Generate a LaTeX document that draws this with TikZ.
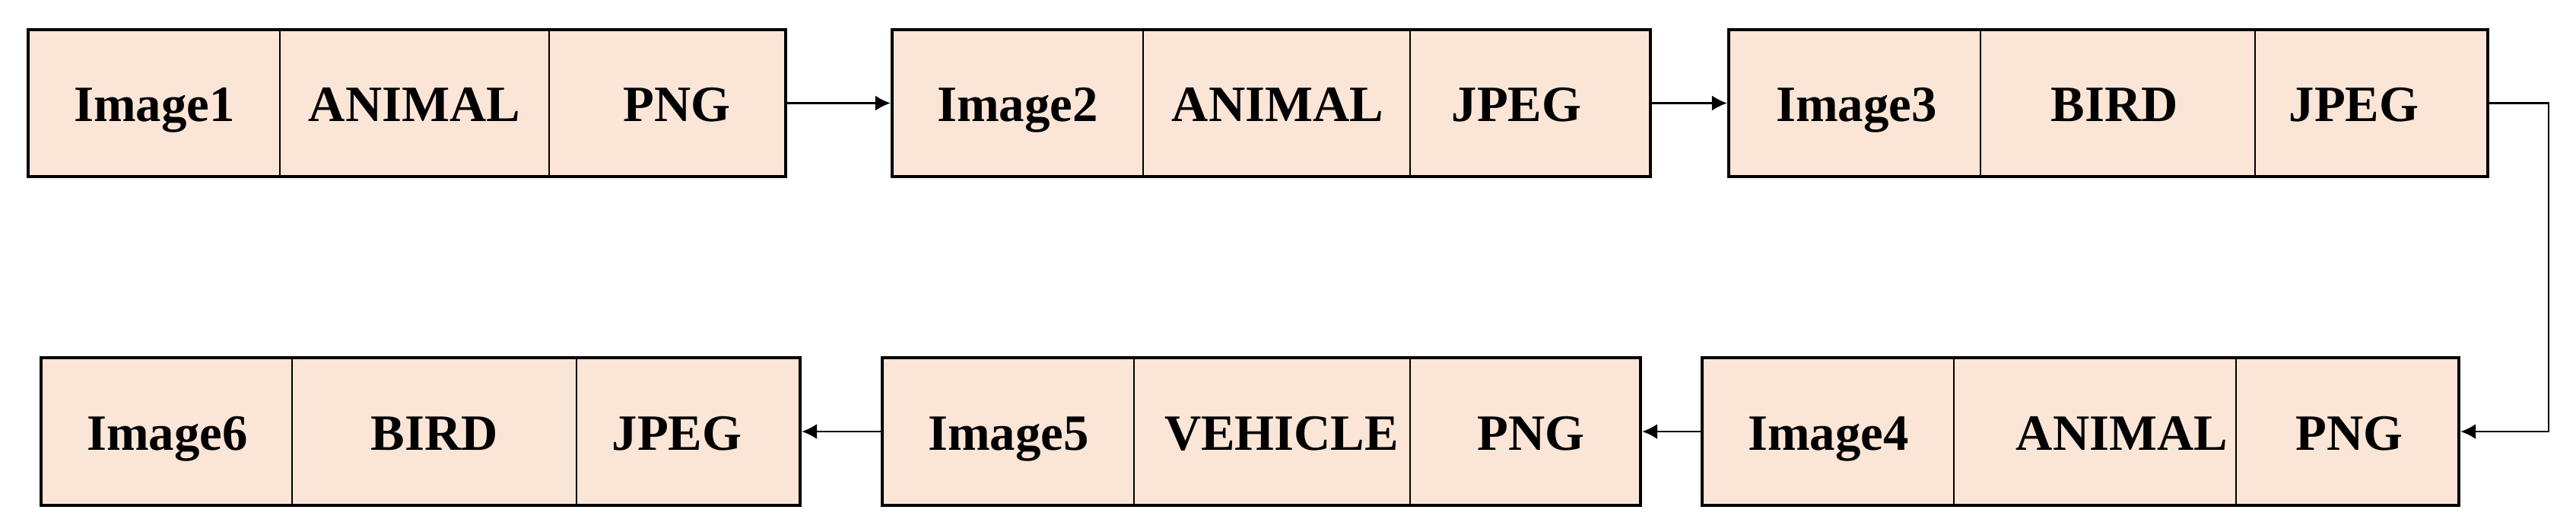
\documentclass[tikz,border=0pt]{standalone}
\usepackage{fontspec}
\setmainfont{Liberation Serif}
\usetikzlibrary{arrows.meta}
\definecolor{peach}{RGB}{251,229,214}
\tikzset{
  imgbox/.style = { draw, line width=1.2pt, fill=peach, inner sep=0pt, minimum height=1.93cm },
  cell/.style   = { inner sep=0pt, text height=0.44cm, text depth=0cm, font=\fontsize{19}{23}\selectfont\bfseries },
  split/.style  = { line width=0.5pt },
  link/.style   = { line width=0.7pt, -{Latex[length=0.2cm, width=0.2cm]} }
}
\begin{document}
\begin{tikzpicture}
        \useasboundingbox (0.0, 0.0) rectangle (33.87, 6.99);

        \node (box1) [ imgbox, minimum width=9.96cm ] at ( 5.35, 5.635) {};
        \node (box2) [ imgbox, minimum width=9.97cm ] at (16.715, 5.635) {};
        \node (box3) [ imgbox, minimum width=9.98cm ] at (27.72, 5.635) {};
        \node (box4) [ imgbox, minimum width=9.95cm, minimum height=1.94cm ] at (27.355, 1.32) {};
        \node (box5) [ imgbox, minimum width=9.97cm, minimum height=1.94cm ] at (16.585, 1.32) {};
        \node (box6) [ imgbox, minimum width=9.98cm, minimum height=1.94cm ] at ( 5.53, 1.32) {};

        \draw [ split ] ( 3.68, 6.60) -- ( 3.68, 4.67);
        \draw [ split ] ( 7.22, 6.60) -- ( 7.22, 4.67);
        \draw [ split ] (15.03, 6.60) -- (15.03, 4.67);
        \draw [ split ] (18.54, 6.60) -- (18.54, 4.67);
        \draw [ split ] (26.04, 6.60) -- (26.04, 4.67);
        \draw [ split ] (29.65, 6.60) -- (29.65, 4.67);

        \draw [ split ] (25.69, 2.29) -- (25.69, 0.35);
        \draw [ split ] (29.40, 2.29) -- (29.40, 0.35);
        \draw [ split ] (14.91, 2.29) -- (14.91, 0.35);
        \draw [ split ] (18.54, 2.29) -- (18.54, 0.35);
        \draw [ split ] ( 3.84, 2.29) -- ( 3.84, 0.35);
        \draw [ split ] ( 7.58, 2.29) -- ( 7.58, 0.35);

        \node (img1) [ cell ] at ( 2.03, 5.615) {Image1};
        \node (cat1) [ cell ] at ( 5.45, 5.615) {ANIMAL};
        \node (fmt1) [ cell ] at ( 8.90, 5.615) {PNG};

        \node (img2) [ cell ] at (13.38, 5.615) {Image2};
        \node (cat2) [ cell ] at (16.80, 5.615) {ANIMAL};
        \node (fmt2) [ cell ] at (19.94, 5.615) {JPEG};

        \node (img3) [ cell ] at (24.41, 5.615) {Image3};
        \node (cat3) [ cell ] at (27.80, 5.615) {BIRD};
        \node (fmt3) [ cell ] at (30.95, 5.615) {JPEG};

        \node (img4) [ cell ] at (24.04, 1.29) {Image4};
        \node (cat4) [ cell ] at (27.90, 1.29) {ANIMAL};
        \node (fmt4) [ cell ] at (30.89, 1.29) {PNG};

        \node (img5) [ cell ] at (13.26, 1.29) {Image5};
        \node (cat5) [ cell ] at (16.85, 1.29) {VEHICLE};
        \node (fmt5) [ cell ] at (20.13, 1.29) {PNG};

        \node (img6) [ cell ] at ( 2.20, 1.29) {Image6};
        \node (cat6) [ cell ] at ( 5.71, 1.29) {BIRD};
        \node (fmt6) [ cell ] at ( 8.90, 1.29) {JPEG};

        \draw [ link ] (box1.east) -- (box2.west);
        \draw [ link ] (box2.east) -- (box3.west);
        \draw [ link ] (box3.east) -- ++(0.78, 0.0) |- (box4.east);
        \draw [ link ] (box4.west) -- (box5.east);
        \draw [ link ] (box5.west) -- (box6.east);
\end{tikzpicture}
\end{document}
